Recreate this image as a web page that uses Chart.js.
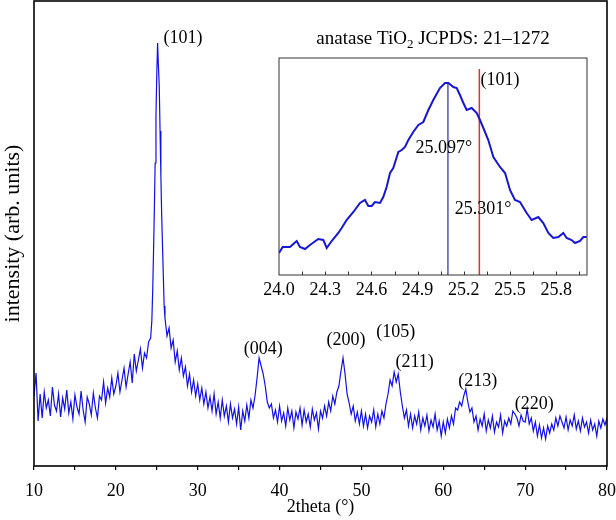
<!DOCTYPE html>
<html>
<head>
<meta charset="utf-8">
<script src="https://cdn.jsdelivr.net/npm/chart.js@4.4.1/dist/chart.umd.min.js"></script>
<style>
    body { margin: 0; background: #fff; }
    #wrap { position: relative; width: 616px; height: 520px; }
    #main { position: absolute; left: 0; top: 0; }
    #inset { position: absolute; left: 262px; top: 18px; }
</style>
</head>
<body>
<div id="wrap">
    <canvas id="main" width="616" height="520"></canvas>
    <canvas id="inset" width="336" height="282"></canvas>
</div>
<script>
var SERIF = "'Liberation Serif', 'Times New Roman', serif";

// main XRD pattern (2theta in degrees, intensity in arb. units)
var twoTheta = [
    10, 10.25, 10.5, 10.75, 11, 11.25, 11.5, 11.75, 12, 12.25,
    12.5, 12.75, 13, 13.25, 13.5, 13.75, 14, 14.25, 14.5, 14.75,
    15, 15.25, 15.5, 15.75, 16, 16.25, 16.5, 16.75, 17, 17.25,
    17.5, 17.75, 18, 18.25, 18.5, 18.75, 19, 19.25, 19.5, 19.75,
    20, 20.25, 20.5, 20.75, 21, 21.25, 21.5, 21.75, 22, 22.25,
    22.5, 22.75, 23, 23.25, 23.5, 23.75, 24, 24.25,
    24.4, 24.5, 24.6, 24.7, 24.8, 24.9, 25, 25.1, 25.2, 25.3,
    25.4, 25.5, 25.6, 25.7, 25.8, 25.9, 26,
    26.25, 26.5, 26.75, 27, 27.25, 27.5, 27.75, 28,
    28.25, 28.5, 28.75, 29, 29.25, 29.5, 29.75, 30,
    30.25, 30.5, 30.75, 31, 31.25, 31.5, 31.75, 32,
    32.25, 32.5, 32.75, 33, 33.25, 33.5, 33.75, 34,
    34.25, 34.5, 34.75, 35, 35.25, 35.5, 35.75, 36,
    36.25, 36.5, 36.75, 37, 37.25, 37.5, 37.75, 38,
    38.25, 38.5, 38.75, 39, 39.25, 39.5, 39.75, 40,
    40.25, 40.5, 40.75, 41, 41.25, 41.5, 41.75, 42,
    42.25, 42.5, 42.75, 43, 43.25, 43.5, 43.75, 44,
    44.25, 44.5, 44.75, 45, 45.25, 45.5, 45.75, 46,
    46.25, 46.5, 46.75, 47, 47.25, 47.5, 47.75, 48,
    48.25, 48.5, 48.75, 49, 49.25, 49.5, 49.75, 50,
    50.25, 50.5, 50.75, 51, 51.25, 51.5, 51.75, 52,
    52.25, 52.5, 52.75, 53, 53.25, 53.5, 53.75, 54,
    54.25, 54.5, 54.75, 55, 55.25, 55.5, 55.75, 56,
    56.25, 56.5, 56.75, 57, 57.25, 57.5, 57.75, 58,
    58.25, 58.5, 58.75, 59, 59.25, 59.5, 59.75, 60,
    60.25, 60.5, 60.75, 61, 61.25, 61.5, 61.75, 62,
    62.25, 62.5, 62.75, 63, 63.25, 63.5, 63.75, 64,
    64.25, 64.5, 64.75, 65, 65.25, 65.5, 65.75, 66,
    66.25, 66.5, 66.75, 67, 67.25, 67.5, 67.75, 68,
    68.25, 68.5, 68.75, 69, 69.25, 69.5, 69.75, 70,
    70.25, 70.5, 70.75, 71, 71.25, 71.5, 71.75, 72,
    72.25, 72.5, 72.75, 73, 73.25, 73.5, 73.75, 74,
    74.25, 74.5, 74.75, 75, 75.25, 75.5, 75.75, 76,
    76.25, 76.5, 76.75, 77, 77.25, 77.5, 77.75, 78,
    78.25, 78.5, 78.75, 79, 79.25, 79.5, 79.75, 80
];
var intensity = [
    70, 93, 45, 72, 48, 74, 58, 66, 50, 79,
    61, 55, 72, 49, 68, 57, 76, 53, 64, 47,
    71, 59, 52, 75, 56, 44, 69, 62, 51, 73,
    58, 48, 70, 66, 84, 63, 78, 69, 88, 72,
    80, 93, 74, 86, 98, 79, 92, 104, 83, 112,
    95, 106, 117, 98, 113, 108, 124, 128,
    146, 175, 213, 255, 303, 350, 392, 423, 400, 380,
    335, 290, 250, 220, 190, 160, 148,
    130, 138, 118, 126, 104, 115, 96, 108,
    90, 99, 80, 92, 74, 86, 70, 82,
    66, 78, 62, 74, 58, 69, 55, 72,
    52, 64, 48, 66, 50, 60, 44, 62,
    48, 57, 42, 59, 36, 55, 45, 61,
    48, 66, 58, 70, 88, 108, 100, 92,
    80, 64, 58, 62, 48, 56, 44, 60,
    45, 53, 40, 58, 46, 55, 38, 54,
    47, 58, 41, 56, 44, 52, 39, 57,
    46, 53, 37, 55, 48, 60, 50, 64,
    55, 70, 62, 74, 80, 95, 108, 92,
    72, 63, 52, 60, 45, 54, 42, 55,
    40, 52, 38, 50, 44, 56, 39, 52,
    42, 55, 48, 62, 72, 86, 80, 94,
    84, 92, 74, 60, 48, 56, 40, 52,
    38, 50, 42, 54, 36, 48, 40, 51,
    35, 46, 39, 52, 36, 45, 30, 44,
    33, 47, 38, 50, 42, 58, 56, 64,
    60, 70, 77, 64, 54, 58, 44, 50,
    36, 47, 40, 52, 35, 46, 38, 50,
    34, 44, 39, 51, 33, 45, 40, 48,
    42, 55, 52, 48, 40, 51, 45, 44,
    57, 42, 48, 35, 44, 30, 41, 28,
    38, 27, 40, 33, 42, 36, 48, 40,
    50, 44, 38, 49, 36, 46, 40, 51,
    37, 45, 35, 48, 39, 44, 33, 46,
    36, 42, 30, 45, 38, 47, 41, 48
];

// peak labels on the main pattern
var peakNames = ['(101)', '(004)', '(200)', '(105)', '(211)', '(213)', '(220)'];
var peakLabelX = [28.2, 38.0, 48.1, 54.2, 56.5, 64.2, 71.1];
var peakLabelY = [428, 117, 126, 134, 104, 85, 62];

// inset: zoom on the (101) reflection
var insetTheta = [
    24.000, 24.024, 24.071, 24.115, 24.136, 24.169, 24.201, 24.255, 24.288, 24.310,
    24.342, 24.385, 24.407, 24.439, 24.483, 24.526, 24.558, 24.580, 24.602, 24.623,
    24.656, 24.677, 24.699, 24.721, 24.742, 24.775, 24.797, 24.818, 24.840, 24.872,
    24.905, 24.937, 24.970, 25.002, 25.045, 25.078, 25.100, 25.132, 25.154, 25.175,
    25.197, 25.219, 25.251, 25.284, 25.305, 25.327, 25.359, 25.392, 25.435, 25.468,
    25.500, 25.532, 25.565, 25.608, 25.641, 25.684, 25.716, 25.749, 25.781, 25.814,
    25.846, 25.868, 25.900, 25.922, 25.955, 25.976, 25.998
];
var insetCounts = [
    22, 28, 28, 34, 28, 26, 30, 36, 35, 27,
    34, 42, 47, 55, 63, 72, 75, 69, 69, 73,
    72, 78, 88, 102, 107, 123, 125, 128, 135, 143,
    150, 153, 165, 175, 187, 192, 192, 188, 187, 180,
    172, 165, 167, 162, 155, 147, 135, 118, 108, 102,
    85, 75, 73, 62, 55, 58, 52, 42, 37, 38,
    42, 37, 35, 32, 34, 38, 38
];
var measuredPeak = 25.097;   // sample
var referencePeak = 25.301;  // JCPDS 21-1272
var measuredTop = 193;
var referenceTop = 206;
var insetNames = ['25.097\u00b0', '25.301\u00b0', '(101)'];
var insetLabelX = [25.07, 25.325, 25.435];
var insetLabelY = [127, 66, 195];


function toPoints(xs, ys) {
    return xs.map(function (x, i) { return {x: x, y: ys[i]}; });
}

// frame around the plot area
var framePlugin = {
    id: 'frame',
    afterDraw: function (chart, args, opts) {
        let a = chart.chartArea;
        let ctx = chart.ctx;
        ctx.save();
        ctx.strokeStyle = opts.color || '#000';
        ctx.lineWidth = opts.width || 1.5;
        ctx.strokeRect(a.left, a.top, a.right - a.left, a.bottom - a.top);
        ctx.restore();
    }
};

// text labels placed in data coordinates
var textPlugin = {
    id: 'texts',
    afterDatasetsDraw: function (chart, args, opts) {
        let ctx = chart.ctx;
        let xs = chart.scales.x, ys = chart.scales.y;
        ctx.save();
        ctx.fillStyle = '#000';
        ctx.font = '18px ' + SERIF;
        ctx.textAlign = 'center';
        ctx.textBaseline = 'middle';
        opts.names.forEach(function (name, i) {
            ctx.fillText(name, xs.getPixelForValue(opts.xs[i]), ys.getPixelForValue(opts.ys[i]));
        });
        ctx.restore();
    }
};

// inward tick marks + title for the inset
var insetDeco = {
    id: 'insetDeco',
    afterDraw: function (chart) {
        let ctx = chart.ctx;
        let a = chart.chartArea;
        let xs = chart.scales.x;
        ctx.save();
        ctx.strokeStyle = '#333';
        ctx.lineWidth = 1;
        xs.ticks.forEach(function (t) {
            let px = Math.round(xs.getPixelForValue(t.value)) + 0.5;
            if (px <= a.left + 1 || px >= a.right - 1) return;
            ctx.beginPath();
            ctx.moveTo(px, a.bottom);
            ctx.lineTo(px, a.bottom - 3.5);
            ctx.stroke();
        });
        // title with subscript
        let big = '19px ' + SERIF, small = '13px ' + SERIF;
        let p1 = 'anatase TiO', p2 = '2', p3 = ' JCPDS: 21\u20131272';
        ctx.font = big;
        let w1 = ctx.measureText(p1).width, w3 = ctx.measureText(p3).width;
        ctx.font = small;
        let w2 = ctx.measureText(p2).width;
        let x0 = (a.left + a.right) / 2 - (w1 + w2 + w3) / 2;
        let base = a.top - 14;
        ctx.fillStyle = '#000';
        ctx.textAlign = 'left';
        ctx.textBaseline = 'alphabetic';
        ctx.font = big;
        ctx.fillText(p1, x0, base);
        ctx.font = small;
        ctx.fillText(p2, x0 + w1, base + 4);
        ctx.font = big;
        ctx.fillText(p3, x0 + w1 + w2, base);
        ctx.restore();
    }
};

var mainChart = new Chart(document.getElementById('main'), {
    type: 'line',
    data: {
        datasets: [{
            data: toPoints(twoTheta, intensity),
            borderColor: '#1010e8',
            borderWidth: 1.2,
            pointRadius: 0,
            tension: 0
        }]
    },
    options: {
        responsive: false,
        animation: false,
        layout: {padding: {top: 1, right: 9, left: 0, bottom: 0}},
        plugins: {
            legend: {display: false},
            tooltip: {enabled: false},
            frame: {width: 1.6},
            texts: {names: peakNames, xs: peakLabelX, ys: peakLabelY}
        },
        scales: {
            x: {
                type: 'linear',
                min: 10,
                max: 80,
                ticks: {
                    stepSize: 5,
                    autoSkip: false,
                    maxRotation: 0,
                    padding: 10,
                    color: '#000',
                    font: {family: SERIF, size: 18},
                    callback: function (v) { return v % 10 === 0 ? String(v) : ''; }
                },
                grid: {drawOnChartArea: false, tickLength: 4, color: '#000', lineWidth: 1.2},
                border: {display: false},
                title: {
                    display: true,
                    text: '2theta (\u00b0)',
                    color: '#000',
                    font: {family: SERIF, size: 18},
                    padding: {top: 0, bottom: 2}
                },
                afterFit: function (s) {
                    s.height = 54;
                    s.paddingLeft = 0;
                    s.paddingRight = 0;
                }
            },
            y: {
                min: 0,
                max: 465,
                ticks: {display: false},
                grid: {display: false, drawTicks: false},
                border: {display: false},
                title: {
                    display: true,
                    text: 'intensity (arb. units)',
                    color: '#000',
                    font: {family: SERIF, size: 22},
                    padding: {top: 0, bottom: 0}
                },
                afterFit: function (s) { s.width = 34; }
            }
        }
    },
    plugins: [framePlugin, textPlugin]
});

var insetChart = new Chart(document.getElementById('inset'), {
    type: 'line',
    data: {
        datasets: [{
            data: toPoints(insetTheta, insetCounts),
            borderColor: '#1616d4',
            borderWidth: 2,
            pointRadius: 0,
            tension: 0
        }, {
            data: [{x: measuredPeak, y: 0}, {x: measuredPeak, y: measuredTop}],
            borderColor: '#2a2ab4',
            borderWidth: 1.2,
            pointRadius: 0
        }, {
            data: [{x: referencePeak, y: 0}, {x: referencePeak, y: referenceTop}],
            borderColor: '#f02a2a',
            borderWidth: 1.5,
            pointRadius: 0
        }]
    },
    options: {
        responsive: false,
        animation: false,
        layout: {padding: {top: 40, right: 11, left: 0, bottom: 0}},
        plugins: {
            legend: {display: false},
            tooltip: {enabled: false},
            frame: {width: 1, color: '#333'},
            texts: {names: insetNames, xs: insetLabelX, ys: insetLabelY}
        },
        scales: {
            x: {
                type: 'linear',
                min: 24,
                max: 26,
                ticks: {
                    stepSize: 0.15,
                    includeBounds: false,
                    autoSkip: false,
                    maxRotation: 0,
                    padding: 4,
                    color: '#000',
                    font: {family: SERIF, size: 18},
                    callback: function (v) {
                        let k = (v - 24) / 0.3;
                        return Math.abs(k - Math.round(k)) < 1e-6 ? v.toFixed(1) : '';
                    }
                },
                grid: {display: false, drawTicks: false},
                border: {display: false},
                afterFit: function (s) {
                    s.height = 25;
                    s.paddingLeft = 0;
                    s.paddingRight = 0;
                }
            },
            y: {
                min: 0,
                max: 217,
                ticks: {display: false},
                grid: {display: false, drawTicks: false},
                border: {display: false},
                afterFit: function (s) { s.width = 17; }
            }
        }
    },
    plugins: [framePlugin, textPlugin, insetDeco]
});
</script>
</body>
</html>
